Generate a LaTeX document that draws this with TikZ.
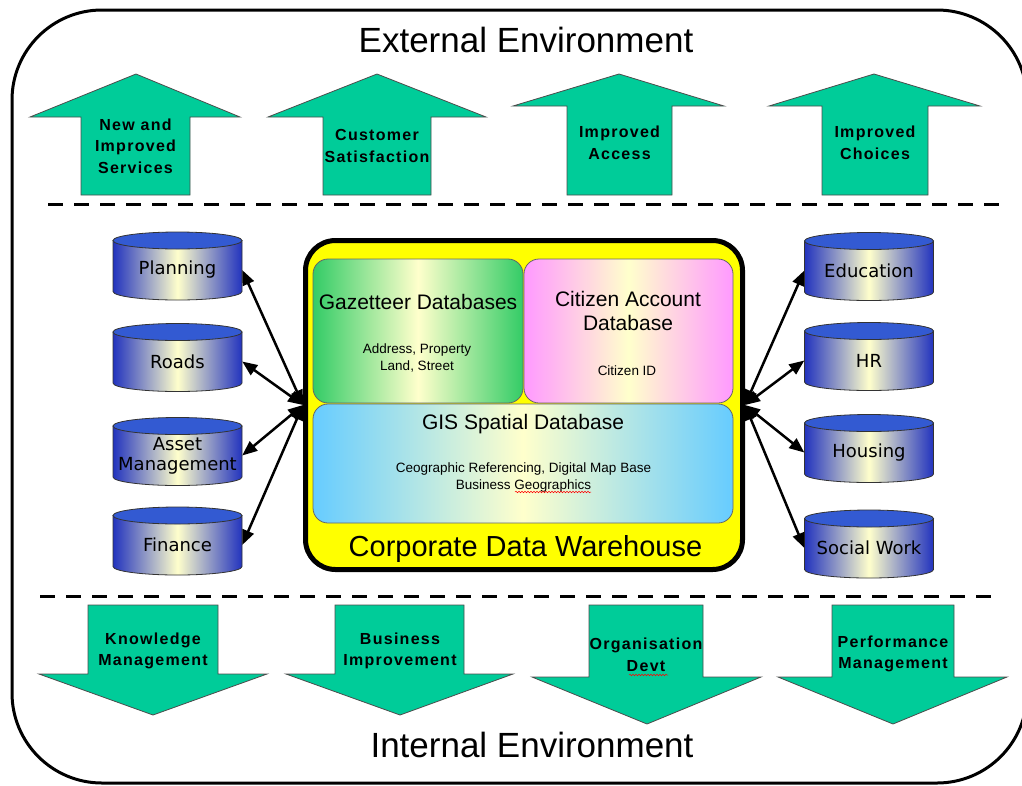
\documentclass[tikz,border=0pt]{standalone}
\usepackage{fontspec}
\setmainfont{Liberation Sans}
\newfontfamily\cylfont{DejaVu Sans}
\newfontfamily\arrfont[LetterSpace=8]{Liberation Sans}
\usetikzlibrary{arrows.meta,decorations.pathmorphing}

\definecolor{arrgreen}{RGB}{0,204,153}
\definecolor{cylblue}{RGB}{34,51,190}
\definecolor{captop}{RGB}{51,90,210}
\definecolor{cream}{RGB}{255,255,204}
\definecolor{gazgreen}{RGB}{51,204,102}
\definecolor{citpink}{RGB}{255,153,255}
\definecolor{gisblue}{RGB}{102,204,255}
\definecolor{whyellow}{RGB}{255,255,0}

\tikzset{
  bigarrow/.style={draw=black!70, line width=0.8pt, fill=arrgreen},
  arrtext/.style={align=center, inner sep=0pt, font=\arrfont\bfseries\fontsize{16}{21.5}\selectfont},
  cylbody/.style={left color=cylblue, right color=cylblue, middle color=cream, draw=black!80, line width=0.8pt},
  cyltop/.style={fill=captop, draw=black!80, line width=0.8pt},
  cyltext/.style={minimum width=129pt, minimum height=60pt, inner sep=0pt, align=center, font=\cylfont\fontsize{18}{20}\selectfont},
  whouse/.style={draw=black, line width=5pt, fill=whyellow, rounded corners=30pt, minimum width=437pt, minimum height=329pt, inner sep=0pt},
  dbbox/.style={draw=black!60, line width=0.8pt, rounded corners=15pt, inner sep=0pt},
  boxtitle/.style={inner sep=0pt, align=center, font=\fontsize{21}{24}\selectfont},
  subtext/.style={inner sep=0pt, align=center, font=\fontsize{13.5}{17}\selectfont},
  link/.style={line width=2.5pt, {Triangle[length=15pt,width=12pt]}-{Triangle[length=15pt,width=12pt]}},
  sepline/.style={line width=3pt, dash pattern=on 15pt off 11pt},
  spellmark/.style={red, line width=0.5pt, decorate, decoration={snake, amplitude=0.8pt, segment length=3pt}}
}

\begin{document}
\begin{tikzpicture}[x=1pt,y=1pt,yscale=-1]
\useasboundingbox (0,0) rectangle (1022,785);

% outer frame
\begin{scope}
  \clip (0,0) rectangle (1022,785);
  \draw[line width=3pt, rounded corners=90pt] (12,10) rectangle (1027,783);
\end{scope}

\node[anchor=base, inner sep=0pt, font=\fontsize{35}{40}\selectfont] (exttitle) at (526,52) {External Environment};
\node[anchor=base, inner sep=0pt, font=\fontsize{35}{40}\selectfont] (inttitle) at (532,757) {Internal Environment};

\draw[sepline] (48,204) -- (1003,204);
\draw[sepline] (40,596) -- (997,596);

% up arrows
\foreach \sl/\sr/\hl/\hr/\tx/\hb in {81/190/30/240/136/117, 323/431/268/486/377/117, 567/672/513/724/619/106, 822/928/769/980/874/106}
  \draw[bigarrow] (\sl,195) -- (\sl,\hb) -- (\hl,\hb) -- (\tx,74) -- (\hr,\hb) -- (\sr,\hb) -- (\sr,195) -- cycle;

% down arrows
\foreach \sl/\sr/\hl/\hr/\tx/\hb/\ty in {88/218/39/267/153/674/715, 335/464/286/513/400/674/715, 589/703/532/761/647/677/724, 832/954/778/1007/893/677/724}
  \draw[bigarrow] (\sl,605) -- (\sl,\hb) -- (\hl,\hb) -- (\tx,\ty) -- (\hr,\hb) -- (\sr,\hb) -- (\sr,605) -- cycle;

\node[arrtext] (newsvc) at (135.5,146) {New and\\Improved\\Services};
\node[arrtext] (custsat) at (377,146) {Customer\\Satisfaction};
\node[arrtext] (impacc) at (619.5,143) {Improved\\Access};
\node[arrtext] (impch) at (875,143) {Improved\\Choices};
\node[arrtext] (knowmgt) at (153,651) {Knowledge\\Management};
\node[arrtext] (busimp) at (400,651) {Business\\Improvement};
\node[arrtext] (orgdev) at (646,655) {Organisation\\Devt};
\node[arrtext] (perfmgt) at (893,654) {Performance\\Management};
\draw[spellmark] (629,675) -- (668,675);

% warehouse
\node[whouse] (cdw) at (524,405) {};
\node[dbbox, left color=gazgreen, right color=gazgreen, middle color=cream, minimum width=210pt, minimum height=144pt] (gaz) at (418,331) {};
\node[dbbox, left color=citpink, right color=citpink, middle color=cream, minimum width=209pt, minimum height=144pt] (cit) at (628.5,331) {};
\node[dbbox, left color=gisblue, right color=gisblue, middle color=cream, minimum width=420pt, minimum height=119pt] (gis) at (523,463.5) {};

\node[boxtitle, anchor=base] (gaztitle) at (418,309) {Gazetteer Databases};
\node[subtext] (gazsub) at (417,358) {Address, Property\\Land, Street};
\node[boxtitle] (cittitle) at (628,311) {Citizen Account\\Database};
\node[subtext, anchor=base] (citsub) at (627,375) {Citizen ID};
\node[boxtitle, anchor=base] (gistitle) at (523,429) {GIS Spatial Database};
\node[subtext] (gissub) at (523.5,477) {Ceographic Referencing, Digital Map Base\\Business Geographics};
\draw[spellmark] (515,492) -- (591,492);
\node[anchor=base, inner sep=0pt, font=\fontsize{29}{34}\selectfont] (cdwtitle) at (525.5,556) {Corporate Data Warehouse};

% databases
\foreach \nm/\cx/\cy/\txt in {plan/177.5/266/Planning, roads/177.5/357.5/Roads, asset/177.5/451.5/{Asset\\Management}, fin/177.5/541/Finance, edu/869/266.5/Education, hr/869/356.5/HR, hous/869/448.5/Housing, soc/869/544/{Social Work}}{
  \shade[cylbody] (\cx-64.5,\cy-25.5) -- (\cx-64.5,\cy+25.5) arc[start angle=180, end angle=0, x radius=64.5, y radius=8.5] -- (\cx+64.5,\cy-25.5) -- cycle;
  \draw[cyltop] (\cx,\cy-25.5) ellipse [x radius=64.5, y radius=8.5];
  \node[cyltext] (\nm) at (\cx,\cy+4) {\txt};
}

\foreach \c in {plan,roads,asset,fin}
  \draw[link] (cdw.west) -- (\c.east);
\foreach \c in {edu,hr,hous,soc}
  \draw[link] (cdw.east) -- (\c.west);
\end{tikzpicture}
\end{document}
